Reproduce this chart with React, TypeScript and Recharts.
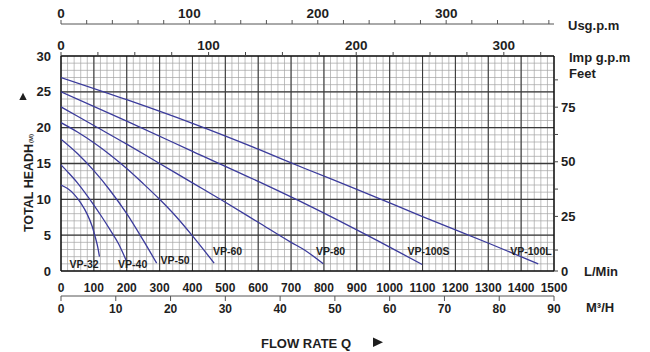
import { LineChart, Line, XAxis, YAxis, CartesianGrid, ReferenceLine, ReferenceDot } from 'recharts';

// pump curves: flow (L/min) vs total head (m)
const vp32Q = [0, 20, 40, 60, 80, 95, 105, 112, 117];
const vp32H = [12.0, 11.5, 10.7, 9.5, 7.9, 6.2, 4.6, 3.3, 2.0];
const vp40Q = [0, 25, 50, 75, 100, 125, 150, 175, 200];
const vp40H = [14.8, 13.6, 12.3, 10.8, 9.2, 7.5, 5.7, 3.8, 1.3];
const vp50Q = [0, 50, 100, 150, 200, 250, 291];
const vp50H = [18.4, 16.4, 14.0, 11.2, 8.0, 4.3, 1.1];
const vp60Q = [0, 50, 100, 150, 200, 250, 300, 350, 400, 466];
const vp60H = [20.7, 19.4, 17.9, 16.2, 14.3, 12.2, 10.0, 7.6, 4.9, 1.1];
const vp80Q = [0, 100, 200, 300, 400, 500, 600, 700, 742, 798];
const vp80H = [22.9, 20.3, 17.7, 15.0, 12.3, 9.6, 6.8, 4.0, 2.9, 1.0];
const vp100sQ = [0, 200, 400, 600, 742, 960, 1030, 1099];
const vp100sH = [25.0, 20.9, 16.7, 12.5, 9.4, 4.3, 2.6, 0.9];
const vp100lQ = [0, 200, 400, 600, 742, 900, 1100, 1305, 1452];
const vp100lH = [27.0, 23.9, 20.6, 17.0, 14.3, 11.4, 7.6, 3.8, 1.0];

const models = ['VP-32', 'VP-40', 'VP-50', 'VP-60', 'VP-80', 'VP-100S', 'VP-100L'];
// label anchor (flow, head) for each model name
const labelQ = [70, 218, 347, 507, 820, 1118, 1430];
const labelH = [1.0, 1.0, 1.45, 2.8, 2.8, 2.8, 2.8];

// axis ranges (same span as 0-1500 L/min, 0-30 m)
const usMax = 384;
const impMax = 334;
const m3hMax = 90;
const feetMax = 98.43;

// axis ticks
const lpmTicks = Array.from({ length: 76 }, (_, i) => i * 20);
const m3hTicks = [0, 10, 20, 30, 40, 50, 60, 70, 80, 90];
const usTicks = Array.from({ length: 20 }, (_, i) => i * 20);
const impTicks = Array.from({ length: 14 }, (_, i) => i * 25);
const headTicks = Array.from({ length: 31 }, (_, i) => i);
const feetTicks = [0, 9.6, 25, 37.5, 50, 62.5, 75, 87.5];
const majorFlow = [100, 200, 300, 400, 500, 600, 700, 800, 900, 1000, 1100, 1200, 1300, 1400];
const majorHead = [5, 10, 15, 20, 25];

const zip = (q: number[], h: number[]) => q.map((v, i) => ({ q: v, h: h[i] }));
const curves = [
  zip(vp32Q, vp32H),
  zip(vp40Q, vp40H),
  zip(vp50Q, vp50H),
  zip(vp60Q, vp60H),
  zip(vp80Q, vp80H),
  zip(vp100sQ, vp100sH),
  zip(vp100lQ, vp100lH),
];
// invisible helpers so that the secondary scales get a domain
const span = (max: number) => [{ q: 0, h: 0 }, { q: max, h: 0 }];
const feetSpan = [{ q: 0, h: 0 }, { q: 0, h: feetMax }];

const CURVE = '#3b3b9c';
const INK = '#1e1e1e';
const font = '"Liberation Sans", Arial, sans-serif';
const tickFont = (size: number) => ({ fontSize: size, fontWeight: 700, fill: INK, fontFamily: font });
const majorOnly = (step: number) => (v: number) => (v % step === 0 ? String(v) : '');

export default function App() {
  return (
    <div style={{ position: 'absolute', left: 0, top: 0, width: 650, height: 352, background: '#fff' }}>
      <LineChart width={650} height={352} margin={{ top: 0, right: 56, left: 31, bottom: 26 }}>
        <CartesianGrid xAxisId="lpm" yAxisId="m" stroke="#a3a3a3" strokeWidth={0.7} />
        <XAxis xAxisId="imp" dataKey="q" orientation="top" type="number" domain={[0, impMax]} allowDataOverflow
          ticks={impTicks} interval={0} height={32} axisLine={false} tickSize={4} tickMargin={2}
          tickLine={{ stroke: '#444' }} tick={tickFont(13.5)} tickFormatter={majorOnly(100)} />
        <XAxis xAxisId="us" dataKey="q" orientation="top" type="number" domain={[0, usMax]} allowDataOverflow
          ticks={usTicks} interval={0} height={24} axisLine={{ stroke: '#555' }} tickSize={4} tickMargin={2}
          tickLine={{ stroke: '#555' }} tick={tickFont(13.5)} tickFormatter={majorOnly(100)} />
        <XAxis xAxisId="lpm" dataKey="q" type="number" domain={[0, 1500]} allowDataOverflow
          ticks={lpmTicks} interval={0} height={25} axisLine={false} tickLine={false} tickMargin={6}
          tick={tickFont(12)} tickFormatter={majorOnly(100)} />
        <XAxis xAxisId="m3h" dataKey="q" type="number" domain={[0, m3hMax]} allowDataOverflow
          ticks={m3hTicks} interval={0} height={30} axisLine={{ stroke: '#555' }} tickSize={5} tickMargin={3}
          tickLine={{ stroke: '#555' }} tick={tickFont(12)} />
        <YAxis yAxisId="m" type="number" domain={[0, 30]} allowDataOverflow ticks={headTicks} interval={0}
          width={30} axisLine={false} tickLine={false} tickMargin={4} tick={tickFont(13)}
          tickFormatter={majorOnly(5)} />
        <YAxis yAxisId="ft" orientation="right" type="number" domain={[0, feetMax]} allowDataOverflow
          ticks={feetTicks} interval={0} width={40} axisLine={false} tickSize={4} tickMargin={3}
          tickLine={{ stroke: '#444' }} tick={tickFont(13)} tickFormatter={majorOnly(25)} />

        {majorFlow.map((v) => (
          <ReferenceLine key={'vx' + v} xAxisId="lpm" yAxisId="m" x={v} stroke="#3a3a3a" strokeWidth={1.1} />
        ))}
        {majorHead.map((v) => (
          <ReferenceLine key={'hy' + v} xAxisId="lpm" yAxisId="m" y={v} stroke="#3a3a3a" strokeWidth={1.3} />
        ))}
        <ReferenceLine xAxisId="lpm" yAxisId="m" x={0} stroke="#111" strokeWidth={1.5} />
        <ReferenceLine xAxisId="lpm" yAxisId="m" x={1500} stroke="#111" strokeWidth={1.5} />
        <ReferenceLine xAxisId="lpm" yAxisId="m" y={0} stroke="#111" strokeWidth={1.5} />
        <ReferenceLine xAxisId="lpm" yAxisId="m" y={30} stroke="#111" strokeWidth={1.5} />

        <Line xAxisId="us" yAxisId="m" data={span(usMax)} dataKey="h" stroke="none" dot={false} isAnimationActive={false} />
        <Line xAxisId="imp" yAxisId="m" data={span(impMax)} dataKey="h" stroke="none" dot={false} isAnimationActive={false} />
        <Line xAxisId="m3h" yAxisId="m" data={span(m3hMax)} dataKey="h" stroke="none" dot={false} isAnimationActive={false} />
        <Line xAxisId="lpm" yAxisId="ft" data={feetSpan} dataKey="h" stroke="none" dot={false} isAnimationActive={false} />

        {curves.map((d, i) => (
          <Line key={models[i]} xAxisId="lpm" yAxisId="m" data={d} dataKey="h" type="monotone"
            stroke={CURVE} strokeWidth={1.3} dot={false} isAnimationActive={false} />
        ))}

        {models.map((name, i) => (
          <ReferenceDot key={'lb' + name} xAxisId="lpm" yAxisId="m" x={labelQ[i]} y={labelH[i]} r={0}
            fill="none" stroke="none"
            label={{ value: name, position: 'center', fontSize: 10.5, fontWeight: 700, fill: INK, fontFamily: font }} />
        ))}
      </LineChart>

      <svg width={650} height={352} style={{ position: 'absolute', left: 0, top: 0, pointerEvents: 'none' }}
        fontFamily={font} fontWeight={700} fill={INK}>
        <text x={568} y={25} fontSize={13} dominantBaseline="central">Usg.p.m</text>
        <text x={569} y={57} fontSize={13} dominantBaseline="central">Imp g.p.m</text>
        <text x={569} y={73} fontSize={13} dominantBaseline="central">Feet</text>
        <text x={584} y={271} fontSize={13} dominantBaseline="central">L/Min</text>
        <text x={586} y={307} fontSize={13} dominantBaseline="central">M³/H</text>
        <text transform="translate(29,188) rotate(-90)" fontSize={12.5} textAnchor="middle" dominantBaseline="central">TOTAL HEADH</text>
        <text transform="translate(31,138.5) rotate(-90)" fontSize={6} textAnchor="middle" dominantBaseline="central">(M)</text>
        <polygon points="19.3,100 26.7,100 23,92.7" />
        <text x={306} y={343} fontSize={13} textAnchor="middle" dominantBaseline="central">FLOW RATE Q</text>
        <polygon points="373,337.5 373,347 383,342.3" />
      </svg>
    </div>
  );
}
